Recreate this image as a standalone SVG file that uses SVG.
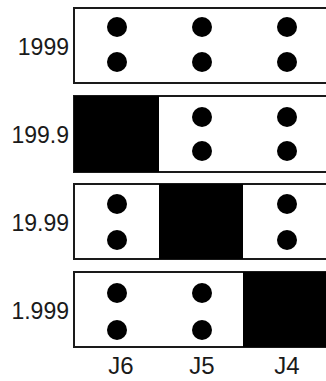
<svg xmlns="http://www.w3.org/2000/svg" width="326" height="381" viewBox="0 0 326 381">
<style>
.box{fill:#fff;stroke:#1a1a1a;stroke-width:2}
.blk{fill:#000}
.dot{fill:#000}
.lbl{font-family:"Liberation Sans",Arial,sans-serif;font-size:23px;fill:#1a1a1a;text-anchor:end}
.col{font-family:"Liberation Sans",Arial,sans-serif;font-size:24px;fill:#1a1a1a;text-anchor:middle}
</style>
<g id="row1999">
<rect class="box" x="74" y="8" width="280" height="75"/>
<circle class="dot" cx="117" cy="27" r="10"/><circle class="dot" cx="117" cy="62" r="10"/>
<circle class="dot" cx="202" cy="27" r="10"/><circle class="dot" cx="202" cy="62" r="10"/>
<circle class="dot" cx="287" cy="27" r="10"/><circle class="dot" cx="287" cy="62" r="10"/>
<text class="lbl" x="69" y="55">1999</text>
</g>
<g id="row199_9">
<rect class="box" x="74" y="96" width="280" height="76"/>
<rect class="blk" x="74" y="96" width="85" height="76"/>
<circle class="dot" cx="202" cy="117" r="10"/><circle class="dot" cx="202" cy="151" r="10"/>
<circle class="dot" cx="287" cy="117" r="10"/><circle class="dot" cx="287" cy="151" r="10"/>
<text class="lbl" x="69" y="143">199.9</text>
</g>
<g id="row19_99">
<rect class="box" x="74" y="184" width="280" height="75"/>
<rect class="blk" x="159" y="184" width="84" height="75"/>
<circle class="dot" cx="117" cy="204" r="10"/><circle class="dot" cx="117" cy="240" r="10"/>
<circle class="dot" cx="287" cy="204" r="10"/><circle class="dot" cx="287" cy="240" r="10"/>
<text class="lbl" x="69" y="231">19.99</text>
</g>
<g id="row1_999">
<rect class="box" x="74" y="272" width="280" height="75"/>
<rect class="blk" x="243" y="272" width="111" height="75"/>
<circle class="dot" cx="117" cy="293" r="10"/><circle class="dot" cx="117" cy="330" r="10"/>
<circle class="dot" cx="202" cy="293" r="10"/><circle class="dot" cx="202" cy="330" r="10"/>
<text class="lbl" x="69" y="319">1.999</text>
</g>
<g id="columns">
<text class="col" x="121" y="374">J6</text>
<text class="col" x="202" y="374">J5</text>
<text class="col" x="287" y="374">J4</text>
</g>
<g id="connectors"/>
</svg>
